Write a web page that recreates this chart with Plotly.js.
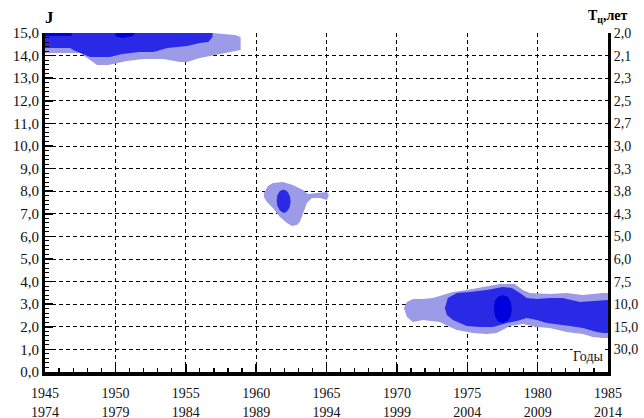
<!DOCTYPE html>
<html>
<head>
<meta charset="utf-8">
<script src="https://cdn.plot.ly/plotly-3.0.1.min.js"></script>
<style>html,body{margin:0;padding:0;background:#fff;}#chart{width:644px;height:418px;}</style>
</head>
<body>
<div id="chart"></div>
<script>
// ---- Data ----
var xTickVals = [1945, 1950, 1955, 1960, 1965, 1970, 1975, 1980, 1985];
var xTickTop = ["1945", "1950", "1955", "1960", "1965", "1970", "1975", "1980", "1985"];
var xTickBottom = ["1974", "1979", "1984", "1989", "1994", "1999", "2004", "2009", "2014"];
var yTickVals = [0,1,2,3,4,5,6,7,8,9,10,11,12,13,14,15];
var yTickLeft = ["0,0","1,0","2,0","3,0","4,0","5,0","6,0","7,0","8,0","9,0","10,0","11,0","12,0","13,0","14,0","15,0"];
var yRightVals = [1,2,3,4,5,6,7,8,9,10,11,12,13,14,15];
var yTickRight = ["30,0","15,0","10,0","7,5","6,0","5,0","4,3","3,8","3,3","3,0","2,7","2,5","2,3","2,1","2,0"];

// Region outlines (year, J)
var topLightX = [1945,1945,1947.5,1948.7,1949.5,1950.8,1952.0,1953.4,1954.6,1955.1,1956.0,1957.9,1958.9,1958.9,1958.5,1956.9];
var topLightY = [15,14.12,14.12,13.58,13.58,13.76,13.85,13.85,13.72,13.72,13.89,14.12,14.25,14.82,14.91,15];
var topMidX = [1945,1945,1946.8,1947.0,1948.2,1949.6,1950.5,1951.7,1952.7,1953.7,1954.4,1955.1,1956.0,1956.6,1956.9,1956.9];
var topMidY = [15,14.34,14.34,14.25,13.94,13.94,14.07,14.16,14.16,14.34,14.38,14.42,14.56,14.60,14.82,15];
var topDark1X = [1945,1946.9,1946.9,1945];
var topDark1Y = [15,15,14.87,14.87];
var topDark2X = [1950.0,1951.4,1951.2,1950.5,1950.0];
var topDark2Y = [15,15,14.86,14.78,14.86];

var midLightX = [1960.55,1960.84,1961.19,1961.90,1962.61,1963.32,1963.68,1964.39,1965.03,1965.17,1965.03,1964.53,1963.96,1963.61,1963.32,1963.11,1962.90,1962.54,1962.19,1961.69,1961.19,1960.77,1960.55];
var midLightY = [7.92,8.23,8.36,8.41,8.27,8.05,7.88,7.92,7.96,7.83,7.61,7.70,7.70,7.48,7.04,6.64,6.50,6.46,6.59,6.86,7.26,7.52,7.74];
var midDarkX = [1961.46,1961.51,1961.69,1961.97,1962.22,1962.40,1962.45,1962.36,1962.15,1961.94,1961.69,1961.51];
var midDarkY = [7.57,7.83,8.01,8.08,7.99,7.79,7.52,7.26,7.08,7.04,7.15,7.35];

var botLightX = [1970.50,1970.71,1971.14,1971.85,1972.56,1973.27,1973.98,1974.97,1976.11,1977.32,1978.38,1978.95,1979.45,1980.87,1982.07,1983.21,1983.92,1984.64,1985.2,
                 1985.2,1984.64,1983.92,1983.21,1982.07,1980.87,1979.94,1978.95,1978.03,1977.10,1976.39,1975.40,1974.26,1973.62,1973.05,1971.85,1971.14,1970.71];
var botLightY = [2.83,3.10,3.23,3.23,3.27,3.41,3.54,3.63,3.76,3.89,3.89,3.63,3.50,3.45,3.50,3.41,3.45,3.50,3.50,
                 1.50,1.50,1.55,1.68,1.77,1.95,1.99,2.12,2.04,1.73,1.68,1.73,1.86,2.04,2.21,2.30,2.21,2.43];
var botMidX = [1973.41,1973.62,1974.26,1975.18,1976.39,1977.53,1978.17,1978.74,1979.23,1979.94,1980.87,1981.79,1983.00,1983.92,1984.64,1985.2,
               1985.2,1984.64,1984.20,1983.21,1982.29,1981.36,1980.65,1979.94,1979.23,1978.52,1977.81,1976.82,1975.89,1974.97,1973.98,1973.55];
var botMidY = [2.83,3.27,3.50,3.54,3.63,3.76,3.72,3.50,3.27,3.23,3.27,3.27,3.10,3.14,3.19,3.19,
               1.73,1.73,1.77,1.95,2.04,2.12,2.17,2.30,2.39,2.26,2.17,1.99,1.99,2.04,2.30,2.52];
var botDarkX = [1976.89,1976.96,1977.17,1977.53,1977.88,1978.10,1978.17,1978.10,1977.88,1977.53,1977.17,1976.96];
var botDarkY = [2.79,3.14,3.32,3.41,3.32,3.10,2.79,2.48,2.26,2.17,2.26,2.48];

var cLight = "#9b9be8", cMid = "#2a2ae6", cDark = "#0000dc";

function region(x, y, color) {
  return {x: x, y: y, type: "scatter", mode: "lines", fill: "toself",
          fillcolor: color, line: {width: 0, color: color}, hoverinfo: "skip", showlegend: false};
}

var traces = [
  region(topLightX, topLightY, cLight),
  region(topMidX, topMidY, cMid),
  region(topDark1X, topDark1Y, cDark),
  region(topDark2X, topDark2Y, cDark),
  region(midLightX, midLightY, cLight),
  region(midDarkX, midDarkY, cMid),
  region(botLightX, botLightY, cLight),
  region(botMidX, botMidY, cMid),
  region(botDarkX, botDarkY, cDark),
  {x: [1945], y: [0], xaxis: "x", yaxis: "y2", type: "scatter", mode: "markers",
   marker: {opacity: 0}, hoverinfo: "skip", showlegend: false},
  {x: [1945], y: [0], xaxis: "x", yaxis: "y3", type: "scatter", mode: "markers",
   marker: {opacity: 0}, hoverinfo: "skip", showlegend: false}
];

var xText = xTickTop.map(function (t, i) { return t + "<br>" + xTickBottom[i]; });
var serif = "Liberation Serif, Times New Roman, serif";

var layout = {
  width: 644, height: 418,
  margin: {l: 45, r: 36, t: 33, b: 46, pad: 0},
  paper_bgcolor: "#ffffff", plot_bgcolor: "#ffffff",
  showlegend: false,
  font: {family: serif, color: "#111", size: 14},
  xaxis: {
    range: [1945, 1985], tickmode: "array", tickvals: xTickVals, ticktext: xText,
    showline: true, linewidth: 3.5, linecolor: "#000",
    ticks: "inside", ticklen: 8, tickwidth: 1.5, tickcolor: "#000",
    showgrid: true, gridcolor: "#000", gridwidth: 1, griddash: "4px,3px",
    zeroline: false, ticklabelstandoff: 6, tickfont: {family: serif, size: 14, color: "#111"},
    minor: {tickmode: "linear", tick0: 1945, dtick: 1, ticks: "inside", ticklen: 4, tickwidth: 1.2, tickcolor: "#000", showgrid: false},
    fixedrange: true
  },
  xaxis2: {
    range: [1945, 1985], overlaying: "x", side: "top", showline: true, linewidth: 1.8, linecolor: "#333",
    showticklabels: false, ticks: "", showgrid: false, zeroline: false
  },
  yaxis: {
    range: [0, 15], tickmode: "array", tickvals: yTickVals, ticktext: yTickLeft,
    showline: true, linewidth: 3, linecolor: "#000",
    ticks: "inside", ticklen: 8, tickwidth: 1.5, tickcolor: "#000",
    showgrid: true, gridcolor: "#000", gridwidth: 1, griddash: "4px,3px",
    zeroline: false, tickfont: {family: serif, size: 15, color: "#111"},
    fixedrange: true
  },
  yaxis3: {
    range: [0, 15], overlaying: "y", side: "left", tickmode: "linear", tick0: 0, dtick: 0.2,
    ticks: "inside", ticklen: 4, tickwidth: 1, tickcolor: "#000",
    showticklabels: false, showline: false, showgrid: false, zeroline: false
  },
  yaxis2: {
    range: [0, 15], overlaying: "y", side: "right", tickmode: "array", tickvals: yRightVals, ticktext: yTickRight,
    showline: true, linewidth: 3, linecolor: "#000", ticks: "", showgrid: false, zeroline: false,
    tickfont: {family: serif, size: 14, color: "#111"}
  },
  annotations: [
    {text: "<b>J</b>", xref: "paper", yref: "paper", x: -0.004, y: 1.047, xanchor: "left", yanchor: "middle",
     showarrow: false, font: {family: serif, size: 17, color: "#000"}},
    {text: "<b>Т<sub>ц</sub>,лет</b>", xref: "paper", yref: "paper", x: 1.0, y: 1.05, xanchor: "center", yanchor: "middle",
     showarrow: false, font: {family: serif, size: 14, color: "#000"}},
    {text: "Годы", xref: "paper", yref: "paper", x: 0.995, y: 0.047, xanchor: "right", yanchor: "middle",
     showarrow: false, bgcolor: "#ffffff", borderpad: 0, font: {family: serif, size: 14, color: "#111"}}
  ]
};

Plotly.newPlot("chart", traces, layout, {staticPlot: true, displayModeBar: false});
</script>
</body>
</html>
